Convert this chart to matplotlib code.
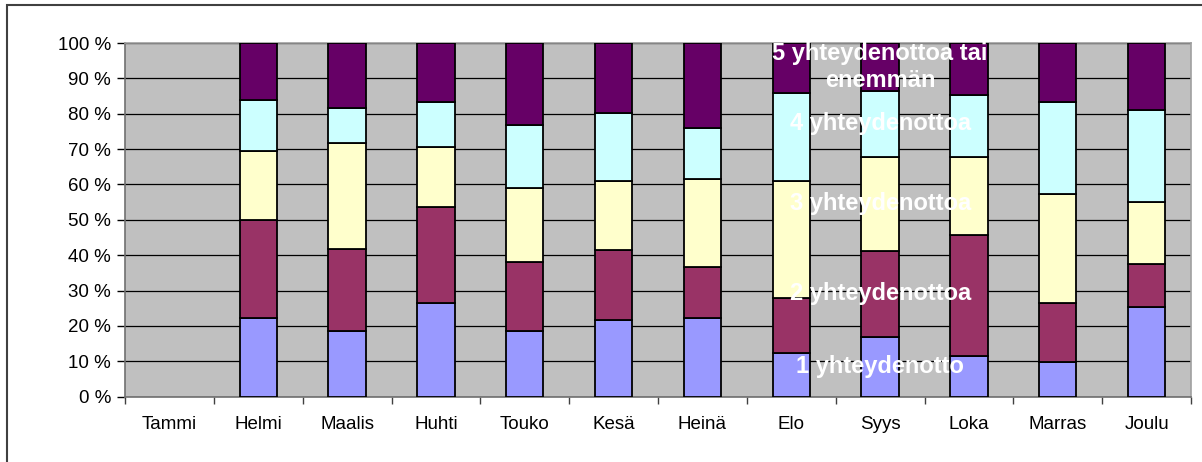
import numpy as np
import matplotlib.pyplot as plt
from matplotlib.patches import Rectangle
from matplotlib.ticker import MultipleLocator, FuncFormatter

plt.rcParams['font.family'] = ['Liberation Sans', 'DejaVu Sans']

# Kuukaudet ja yhteydenottojen osuudet (%), Tammi tyhja
months = ['Tammi', 'Helmi', 'Maalis', 'Huhti', 'Touko', 'Kesä',
          'Heinä', 'Elo', 'Syys', 'Loka', 'Marras', 'Joulu']
series_names = ['1 yhteydenotto', '2 yhteydenottoa', '3 yhteydenottoa',
                '4 yhteydenottoa', '5 yhteydenottoa tai\nenemmän']
nan = np.nan
s1 = [nan, 22.2, 18.6, 26.5, 18.6, 21.8, 22.2, 12.5, 16.9, 11.5, 9.9, 25.4]
s2 = [nan, 27.8, 23.2, 27.2, 19.6, 19.6, 14.4, 15.5, 24.4, 34.1, 16.6, 12.2]
s3 = [nan, 19.5, 29.8, 17.0, 20.9, 19.7, 24.9, 33.0, 26.6, 22.3, 30.8, 17.5]
s4 = [nan, 14.4, 10.1, 12.7, 17.8, 19.1, 14.4, 24.9, 18.5, 17.5, 26.0, 26.0]
s5 = [nan, 16.1, 18.3, 16.6, 23.1, 19.8, 24.1, 14.1, 13.6, 14.6, 16.7, 18.9]
colors = ['#9999FF', '#993366', '#FFFFCC', '#CCFFFF', '#660066']
label_month = 'Syys'

fig = plt.figure(figsize=(12.02, 4.62), dpi=100)
ax = fig.add_axes([0.104, 0.1413, 0.8869, 0.7656])
ax.set_facecolor('#C0C0C0')

# outer chart border (only top and left visible)
fig.patches.append(Rectangle((7 / 1202, -0.1), 1.2, 1.1 - 5.5 / 462,
                             transform=fig.transFigure, fill=False,
                             edgecolor='#404040', linewidth=1.5))

x = np.arange(len(months))
data = [s1, s2, s3, s4, s5]
bottom = np.zeros(len(months))
li = months.index(label_month)
for vals, c, name in zip(data, colors, series_names):
    vals = np.array(vals, dtype=float)
    ax.bar(x, vals, 0.42, bottom=bottom, color=c, edgecolor='black',
           linewidth=1.3, zorder=3)
    ax.text(x[li], bottom[li] + vals[li] / 2, name, color='white',
            fontsize=17, fontweight='bold', ha='center', va='center',
            linespacing=1.25, zorder=5)
    bottom += vals

ax.set_xlim(-0.5, len(months) - 0.5)
ax.set_ylim(0, 100)
ax.yaxis.set_major_locator(MultipleLocator(10))
ax.yaxis.set_major_formatter(FuncFormatter(lambda v, p: f'{v:.0f} %'))
ax.set_xticks(x)
ax.set_xticklabels(months)
ax.set_xticks(np.arange(-0.5, len(months)), minor=True)
ax.tick_params(axis='x', which='major', length=0, pad=14, labelsize=13.5)
ax.tick_params(axis='x', which='minor', length=5, width=1, color='#404040')
ax.tick_params(axis='y', length=6, width=1, color='black', labelsize=13.5, pad=4)
ax.grid(axis='y', color='black', linewidth=0.9, zorder=1)
ax.set_axisbelow(True)
for s in ['top', 'right']:
    ax.spines[s].set_color('#A0A0A0')
for s in ['left', 'bottom']:
    ax.spines[s].set_color('#707070')
for s in ax.spines.values():
    s.set_linewidth(1.2)

fig.savefig('out.png', dpi=100)
